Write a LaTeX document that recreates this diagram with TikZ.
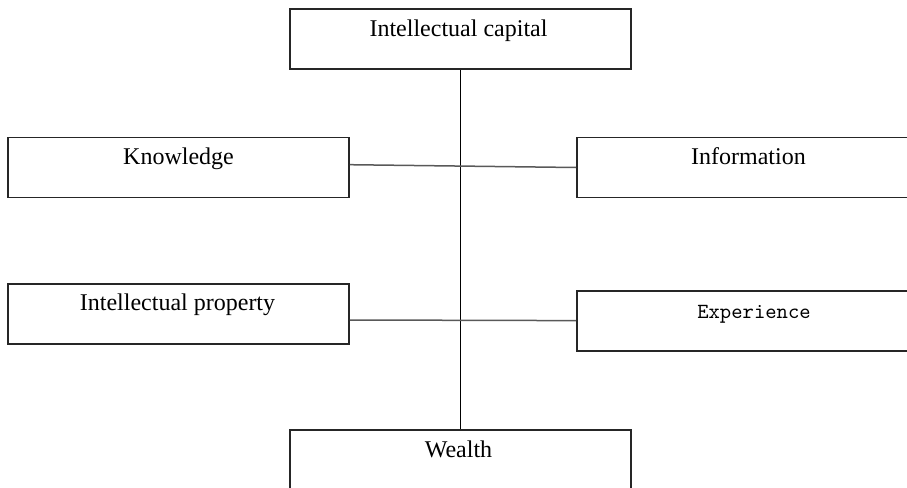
\documentclass[tikz,border=0pt]{standalone}
\usepackage{fontspec}
\setmainfont{Liberation Serif}
\usetikzlibrary{calc}
\tikzset{
  box/.style={draw=black!85, line width=0.85pt, rectangle, minimum width=170.5pt, minimum height=30pt, inner sep=0pt},
  txt/.style={anchor=base, inner sep=0pt, font=\fontsize{12pt}{14pt}\selectfont, text=black},
  hline/.style={draw=black!65, line width=0.75pt},
  vline/.style={draw=black, line width=0.75pt}
}
\begin{document}
\begin{tikzpicture}[x=0.5pt, y=-0.5pt]
\clip (0,0) rectangle (907,488);
\fill[white] (0,0) rectangle (907,488);
% boxes
\node[box] (ic) at (460.5,39) {};
\node[box] (kn) at (178.5,167.5) {};
\node[box] (inf) at (747.5,167.5) {};
\node[box] (ip) at (178.5,314) {};
\node[box] (ex) at (747.5,321) {};
\node[box] (we) at (460.5,460) {};
% texts
\node[txt] (ict) at ($(ic.north)+(-2,28)$) {Intellectual capital};
\node[txt] (knt) at ($(kn.north)+(0,28)$) {Knowledge};
\node[txt] (inft) at ($(inf.north)+(1,28)$) {Information};
\node[txt] (ipt) at ($(ip.north)+(-1,27)$) {Intellectual property};
\node[txt, font=\ttfamily\fontsize{10.8pt}{12pt}\selectfont] (ext) at ($(ex.north)+(6.5,28)$) {Experience};
\node[txt] (wet) at ($(we.north)+(-2,28)$) {Wealth};
% connectors
\draw[vline] (ic.south) -- (we.north);
\draw[hline] ([yshift=1.4pt]kn.east) -- ([yshift=0pt]inf.west);
\draw[hline] ([yshift=-3pt]ip.east) -- ([yshift=0.2pt]ex.west);
\end{tikzpicture}
\end{document}
